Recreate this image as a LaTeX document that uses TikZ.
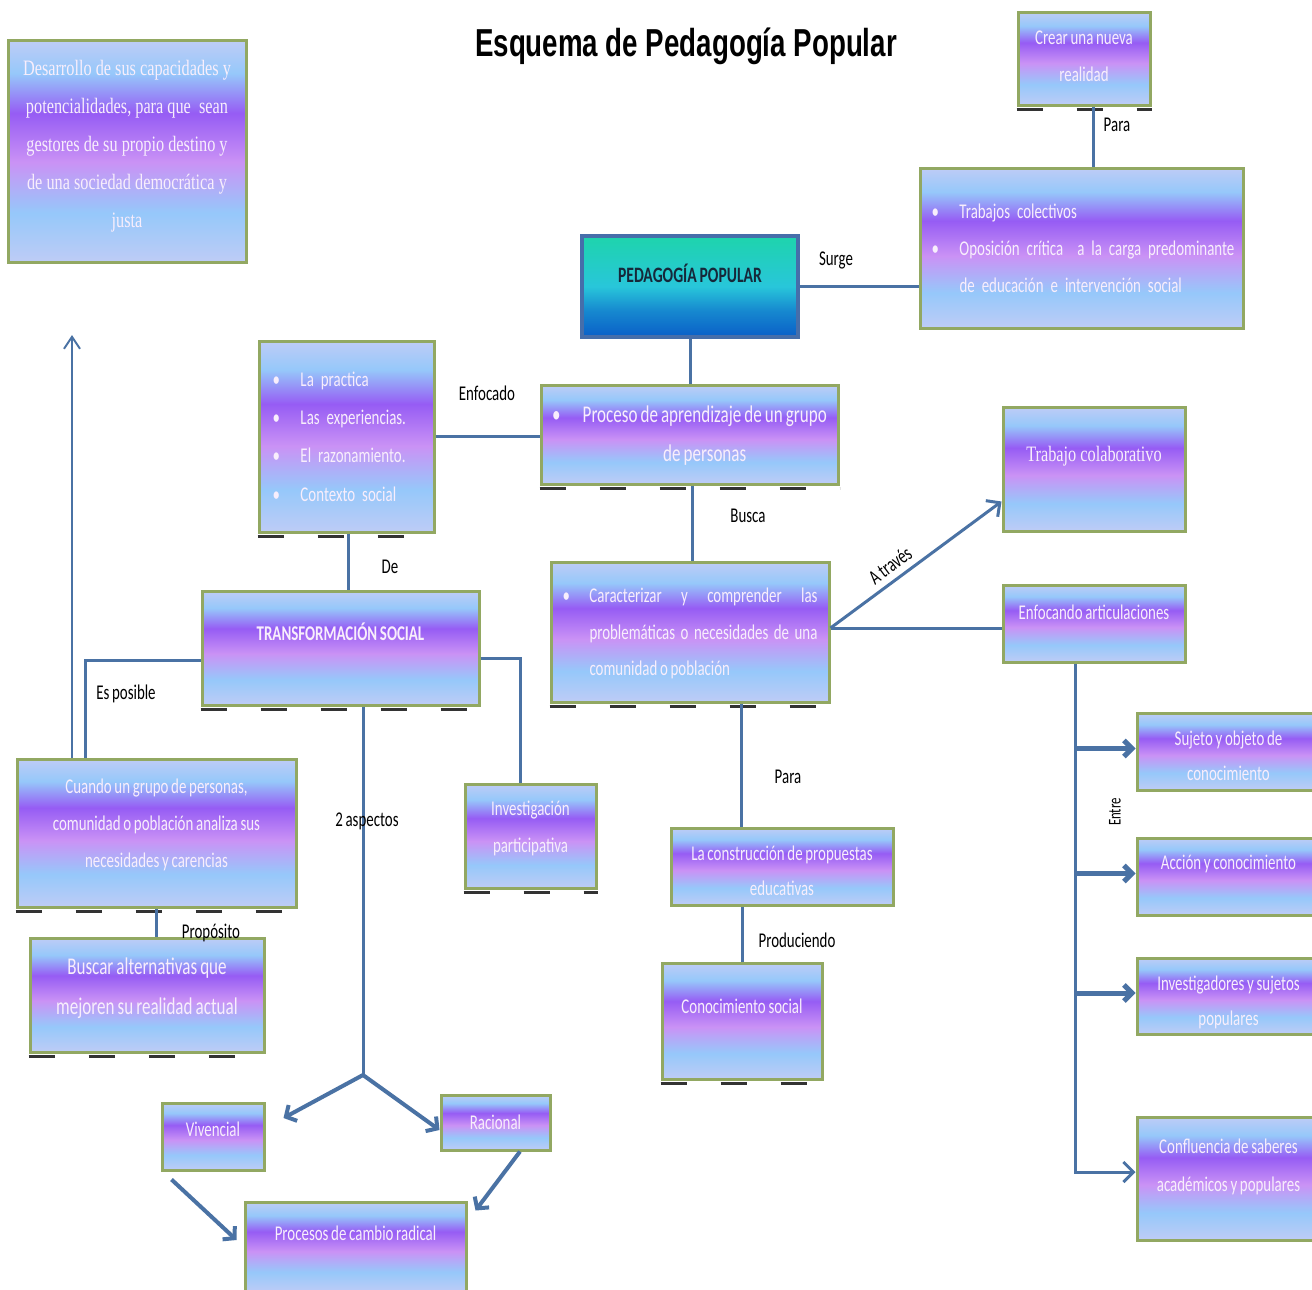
\documentclass[tikz,border=0pt]{standalone}
\usepackage{fontspec}
\setmainfont{Carlito}
\newfontfamily\cuerpo{Carlito}[FakeStretch=0.71, WordSpace=0.8]
\newfontfamily\serifa{Liberation Serif}[FakeStretch=0.74]
\newfontfamily\titulo{Liberation Sans}[FakeStretch=0.71]
\usepackage{xcolor}
\usetikzlibrary{arrows.meta}
\definecolor{azulclaro}{RGB}{190,204,246}
\definecolor{celeste}{RGB}{150,200,250}
\definecolor{violeta}{RGB}{150,92,244}
\definecolor{lila}{RGB}{202,146,245}
\definecolor{borde}{RGB}{146,168,98}
\definecolor{linea}{RGB}{74,114,164}
\definecolor{letra}{RGB}{248,238,252}
\definecolor{turquesa}{RGB}{30,212,172}
\definecolor{aguamar}{RGB}{40,198,218}
\definecolor{azulfuerte}{RGB}{10,95,200}
\definecolor{bordeazul}{RGB}{70,110,170}
\definecolor{oscuro}{RGB}{22,40,58}
\pgfdeclareverticalshading{degradado}{100bp}{color(0bp)=(azulclaro); color(25bp)=(azulclaro); color(36bp)=(celeste); color(47.5bp)=(lila); color(58.5bp)=(violeta); color(67.5bp)=(celeste); color(75bp)=(azulclaro); color(100bp)=(azulclaro)}
\pgfdeclareverticalshading{degradadoazul}{100bp}{color(0bp)=(azulfuerte); color(25bp)=(azulfuerte); color(38bp)=(azulfuerte!60!aguamar); color(50bp)=(aguamar); color(75bp)=(turquesa); color(100bp)=(turquesa)}
\newcommand{\vin}{\makebox[14pt][l]{\textbullet}}
\tikzset{
    caja/.style={draw=borde, line width=1.5pt, shading=degradado, text=letra, inner sep=2pt,
        font=\cuerpo\fontsize{10.5}{18.5}\selectfont}, % cajas con degradado
    cajaserif/.style={caja, font=\serifa\fontsize{11}{19}\selectfont},
    cajaazul/.style={draw=bordeazul, line width=2pt, shading=degradadoazul, text=oscuro,
        font=\cuerpo\bfseries\fontsize{11}{13}\selectfont},
    conector/.style={draw=linea, line width=1.5pt},
    flecha/.style={conector, -{Straight Barb[length=5pt,width=10pt]}},
    flechafina/.style={draw=linea, line width=1pt, -{Straight Barb[length=6pt,width=8pt]}},
    flechagruesa/.style={draw=linea, line width=2.5pt, -{Straight Barb[length=4pt,width=8pt]}},
    flechamedia/.style={draw=linea, line width=2pt, -{Straight Barb[length=4pt,width=9pt]}},
    marcas/.style={draw=black!80, line width=1.5pt, dash pattern=on 13pt off 17pt},
    etiqueta/.style={text=black, inner sep=1pt, font=\cuerpo\fontsize{10.5}{12}\selectfont},
}

\begin{document}
\begin{tikzpicture}[x=0.5pt, y=-0.5pt]
\useasboundingbox[fill=white] (0,0) rectangle (1312,1290);

\node[font=\titulo\bfseries\fontsize{19.5}{22}\selectfont] (titulo) at (686,46) {Esquema de Pedagogía Popular};

% cajas
\node[cajaserif, minimum width=119pt, minimum height=111pt, align=center, text depth=7pt] (desarrollo) at (127,151)
    {Desarrollo de sus capacidades y\\potencialidades, para que\ \ sean\\gestores de su propio destino y\\de una sociedad democrática y\\justa};
\node[caja, minimum width=66pt, minimum height=46.5pt, align=center, text depth=2pt] (crear) at (1084,58.5) {Crear una nueva\\realidad};
\node[caja, minimum width=161.5pt, minimum height=80pt, text width=150pt, align=left] (trabajos) at (1081.5,248)
    {\vin Trabajos colectivos\\ \mbox{\vin Oposición crítica\ \ a la carga predominante}\\ \hspace*{14pt}de educación e intervención social};
\node[cajaazul, minimum width=108pt, minimum height=50.5pt, text depth=13pt] (pedagogia) at (690,286.5) {PEDAGOGÍA POPULAR};
\node[caja, font=\cuerpo\fontsize{12}{19.5}\selectfont, minimum width=148.5pt, minimum height=49.5pt] (proceso) at (689.5,434.5)
    {\begin{tabular}{@{}l@{\hspace{11pt}}c@{}}\textbullet & Proceso de aprendizaje de un grupo\\ & de personas\end{tabular}};
\node[caja, font=\cuerpo\fontsize{10.5}{19.2}\selectfont, minimum width=87.5pt, minimum height=95.5pt, text width=74pt, align=left] (lista) at (346.5,436.5)
    {\vin La practica\\ \vin Las experiencias.\\ \vin El razonamiento.\\ \vin Contexto social};
\node[caja, font=\cuerpo\fontsize{10.5}{18.3}\selectfont, minimum width=139pt, minimum height=70pt] (caracterizar) at (690,632)
    {\begin{tabular}{@{}p{13.5pt}@{}p{114pt}@{}}\textbullet & Caracterizar y comprender las\linebreak problemáticas o necesidades de una\linebreak comunidad o población\end{tabular}};
\node[cajaserif, minimum width=91pt, minimum height=62pt, text depth=15pt] (colaborativo) at (1094,469) {Trabajo colaborativo};
\node[caja, minimum width=91pt, minimum height=38.5pt, text depth=11pt] (enfocando) at (1094,623.5) {Enfocando articulaciones};
\node[caja, font=\cuerpo\fontsize{10.5}{17.5}\selectfont, minimum width=91.5pt, minimum height=38.5pt, align=center, text height=29pt] (sujeto) at (1228.5,751.5) {Sujeto y objeto de\\conocimiento};
\node[caja, minimum width=91.5pt, minimum height=38.5pt, text depth=14pt] (accion) at (1228.5,876.5) {Acción y conocimiento};
\node[caja, font=\cuerpo\fontsize{10.5}{17.5}\selectfont, minimum width=91.5pt, minimum height=38pt, align=center, text height=31pt] (investigadores) at (1228.5,996) {Investigadores y sujetos\\populares};
\node[caja, font=\cuerpo\fontsize{10.5}{19}\selectfont, minimum width=91.5pt, minimum height=61.5pt, align=center, text depth=13pt] (confluencia) at (1228.5,1178.5) {Confluencia de saberes\\académicos y populares};
\node[caja, font=\cuerpo\bfseries\fontsize{10.5}{12}\selectfont, minimum width=138.5pt, minimum height=57pt, text depth=16pt] (transformacion) at (340.5,648) {TRANSFORMACIÓN SOCIAL};
\node[caja, minimum width=65.5pt, minimum height=52pt, align=center, text depth=9pt] (investigacion) at (530.5,836) {Investigación\\participativa};
\node[caja, minimum width=139.5pt, minimum height=74pt, align=center, text depth=10pt] (cuando) at (156.5,833)
    {Cuando un grupo de personas,\\comunidad o población analiza sus\\necesidades y carencias};
\node[caja, font=\cuerpo\fontsize{12}{20}\selectfont, minimum width=117pt, minimum height=57pt, align=center, text depth=9pt] (buscar) at (147,995)
    {Buscar alternativas que\\mejoren su realidad actual};
\node[caja, minimum width=51pt, minimum height=33.5pt, text depth=7pt] (vivencial) at (213,1136.5) {Vivencial};
\node[caja, minimum width=54.5pt, minimum height=27.5pt] (racional) at (495.5,1122.5) {Racional};
\node[caja, minimum width=110.5pt, minimum height=45pt, text depth=14pt] (procesos) at (355.5,1247) {Procesos de cambio radical};
\node[caja, font=\cuerpo\fontsize{10.5}{17.5}\selectfont, minimum width=111pt, minimum height=38.5pt, align=center, text height=29.5pt] (construccion) at (782,866.5) {La construcción de propuestas\\educativas};
\node[caja, minimum width=80pt, minimum height=58pt, text depth=15pt] (conocimiento) at (742,1021) {Conocimiento social};

% marcas bajo las cajas
\foreach \caja in {crear, proceso, lista, caracterizar, transformacion, cuando, buscar, investigacion, conocimiento}
    \draw[marcas] ([yshift=-1.5pt]\caja.south west) -- ([yshift=-1.5pt]\caja.south east);

% conectores
\draw[conector] ([xshift=4.5pt]crear.south) -- ([xshift=4.5pt]crear.south |- trabajos.north);
\draw[conector] (pedagogia.east) -- (pedagogia.east -| trabajos.west);
\draw[conector] (pedagogia.south) -- (pedagogia.south |- proceso.north);
\draw[conector] (lista.east) -- (lista.east -| proceso.west);
\draw[conector] ([xshift=1.25pt]proceso.south) -- ([xshift=1.25pt]proceso.south |- caracterizar.north);
\draw[conector] ([xshift=0.75pt]lista.south) -- ([xshift=0.75pt]lista.south |- transformacion.north);
\draw[flecha] ([yshift=2pt]caracterizar.east) -- ([yshift=15.5pt]colaborativo.south west)
    node[etiqueta, pos=0.4, above=2pt, sloped] (atraves) {A través};
\draw[conector] ([yshift=2pt]caracterizar.east) -- ([yshift=2pt]caracterizar.east -| enfocando.west);
\coordinate (tronco) at ([xshift=-9.5pt]enfocando.south);
\draw[flecha] (tronco) |- ([yshift=3.25pt]confluencia.west);
\foreach \destino in {sujeto, accion, investigadores}
    \draw[flechagruesa] ([yshift=1.5pt]\destino.west -| tronco) -- ([yshift=1.5pt]\destino.west);

\draw[conector] ([yshift=-6pt]transformacion.west) -| ([xshift=-35.75pt]cuando.north);
\coordinate (meta) at (72,335);
\draw[flechafina] ([xshift=-42.25pt]cuando.north) -- (meta);
\draw[conector] ([yshift=-5pt]transformacion.east) -| ([xshift=-5.25pt]investigacion.north);
\draw[conector] (cuando.south) -- (cuando.south |- buscar.north);
\coordinate (bifur) at (363,1075);
\draw[conector] (transformacion.south -| bifur) -- (bifur);
\draw[flechamedia] (bifur) -- ([xshift=9pt,yshift=9.25pt]vivencial.east);
\draw[flechamedia] (bifur) -- ([yshift=-3.75pt]racional.west);
\draw[flechamedia] ([xshift=5.5pt,yshift=-4pt]vivencial.south west) -- ([xshift=-3.5pt,yshift=3.5pt]procesos.west);
\draw[flechamedia] ([xshift=12.25pt]racional.south) -- ([xshift=4pt,yshift=-5pt]procesos.north east);
\draw[conector] ([xshift=-20.5pt]construccion.north |- caracterizar.south) -- ([xshift=-20.5pt]construccion.north);
\draw[conector] (conocimiento.north |- construccion.south) -- (conocimiento.north);

% etiquetas
\node[etiqueta] (surge) at (836,260) {Surge};
\node[etiqueta] (para1) at (1117,125) {Para};
\node[etiqueta] (enfocado) at (487,393) {Enfocado};
\node[etiqueta] (busca) at (748,516) {Busca};
\node[etiqueta] (de) at (390,567) {De};
\node[etiqueta, rotate=90, font=\cuerpo\fontsize{9}{10}\selectfont] (entre) at (1115,812) {Entre};
\node[etiqueta] (esposible) at (126,694) {Es posible};
\node[etiqueta] (aspectos) at (367,821) {2 aspectos};
\node[etiqueta] (proposito) at (211,933) {Propósito};
\node[etiqueta] (para2) at (788,777) {Para};
\node[etiqueta] (produciendo) at (797,940) {Produciendo};
\end{tikzpicture}
\end{document}
